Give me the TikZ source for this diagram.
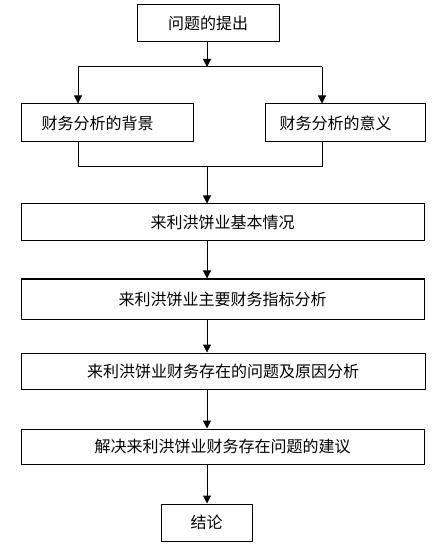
\documentclass[tikz,border=0pt]{standalone}
\usepackage{fontspec}
\setmainfont{Noto Sans CJK SC}
\usetikzlibrary{arrows.meta,positioning,calc}

\begin{document}
\begin{tikzpicture}[x=0.75pt, y=-0.75pt, font=\fontsize{12}{14}\selectfont,
    box/.style={draw, line width=0.75pt, inner sep=0pt, align=center},
    arr/.style={line width=0.75pt, -{Triangle[width=6pt,length=6pt]}},
    link/.style={line width=0.75pt}]
  \useasboundingbox (0,0) rectangle (438,548);
  % top of the chart
  \node[box, minimum width=142*0.75pt, minimum height=37*0.75pt] (ask) at (208,23.5) {问题的提出};
  \node[box, minimum width=172*0.75pt, minimum height=38*0.75pt] (back) at (107,123) {\hspace*{-14pt}财务分析的背景};
  \node[box, minimum width=160*0.75pt, minimum height=38*0.75pt] (mean) at (345,123) {\hspace*{-14pt}财务分析的意义};
  % main column
  \node[box, minimum width=403*0.75pt, minimum height=37*0.75pt] (basic) at (222.5,222.5) {来利洪饼业基本情况};
  \node[box, minimum width=403*0.75pt, minimum height=40*0.75pt] (index) at (222.5,299) {来利洪饼业主要财务指标分析};
  \node[box, minimum width=404*0.75pt, minimum height=36*0.75pt] (issue) at (223,371) {来利洪饼业财务存在的问题及原因分析};
  \node[box, minimum width=403*0.75pt, minimum height=35*0.75pt] (advice) at (222.5,446.5) {解决来利洪饼业财务存在问题的建议};
  \node[box, minimum width=91*0.75pt, minimum height=37*0.75pt] (end) at (206.5,522.5) {结论};
  % split and join
  \coordinate (split) at (207,67);
  \coordinate (splitl) at (78,67);
  \coordinate (splitr) at (322,67);
  \coordinate (joinl) at (78,167);
  \coordinate (joinr) at (322,167);
  \coordinate (join) at (207,167);
  \draw[arr] (ask.south -| split) -- (split);
  \draw[link] (splitl) -- (splitr);
  \draw[arr] (splitl) -- (splitl |- back.north);
  \draw[arr] (splitr) -- (splitr |- mean.north);
  \draw[link] (joinl |- back.south) -- (joinl) -- (joinr) -- (joinr |- mean.south);
  \draw[arr] (join) -- (join |- basic.north);
  \draw[arr] (join |- basic.south) -- (join |- index.north);
  \draw[arr] (join |- index.south) -- (join |- issue.north);
  \draw[arr] (join |- issue.south) -- (join |- advice.north);
  \draw[arr] (join |- advice.south) -- (join |- end.north);
\end{tikzpicture}
\end{document}
